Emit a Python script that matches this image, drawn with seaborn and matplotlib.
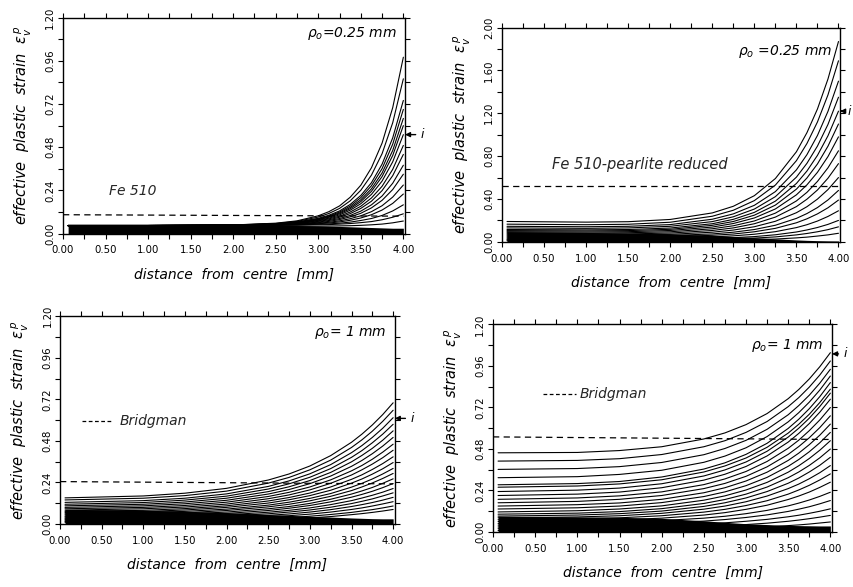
import numpy as np
import pandas as pd
import matplotlib
matplotlib.use("Agg")
import matplotlib.pyplot as plt
import seaborn as sns
from matplotlib.transforms import blended_transform_factory

sns.set_theme(style="ticks")
plt.rcParams["font.family"] = ["DejaVu Sans"]

# ---------------- data ----------------
# x positions at which the curves were read (panel 1 / panels 2-4)
X1 = [0.06, 1.0, 2.0, 2.5, 2.75, 3.0, 3.125, 3.25, 3.375, 3.5, 3.625, 3.75, 3.875, 4.0]
X2 = [0.06, 1.0, 1.5, 2.0, 2.5, 2.75, 3.0, 3.25, 3.5, 3.625, 3.75, 3.875, 4.0]

# Panel 1: Fe 510, rho0 = 0.25 mm
P1_CURVES = [
    [0.045, 0.045, 0.048, 0.058, 0.071, 0.099, 0.122, 0.154, 0.202, 0.269, 0.366, 0.503, 0.700, 0.98],
    [0.045, 0.045, 0.048, 0.056, 0.068, 0.092, 0.112, 0.140, 0.182, 0.241, 0.325, 0.444, 0.616, 0.86],
    [0.045, 0.045, 0.047, 0.055, 0.065, 0.085, 0.102, 0.126, 0.162, 0.212, 0.283, 0.386, 0.532, 0.74],
    [0.045, 0.045, 0.047, 0.054, 0.063, 0.082, 0.098, 0.120, 0.153, 0.200, 0.266, 0.361, 0.497, 0.69],
    [0.045, 0.045, 0.047, 0.053, 0.062, 0.079, 0.094, 0.115, 0.145, 0.188, 0.249, 0.337, 0.462, 0.64],
    [0.045, 0.045, 0.047, 0.053, 0.061, 0.077, 0.091, 0.110, 0.138, 0.178, 0.235, 0.317, 0.434, 0.60],
    [0.045, 0.045, 0.047, 0.052, 0.059, 0.074, 0.086, 0.104, 0.130, 0.166, 0.218, 0.292, 0.399, 0.55],
    [0.045, 0.045, 0.046, 0.051, 0.058, 0.071, 0.082, 0.097, 0.120, 0.152, 0.198, 0.263, 0.357, 0.49],
    [0.045, 0.045, 0.046, 0.050, 0.056, 0.068, 0.077, 0.091, 0.111, 0.140, 0.180, 0.239, 0.322, 0.44],
    [0.045, 0.045, 0.046, 0.050, 0.054, 0.064, 0.073, 0.084, 0.101, 0.125, 0.160, 0.209, 0.280, 0.38],
    [0.045, 0.045, 0.046, 0.049, 0.053, 0.061, 0.068, 0.078, 0.093, 0.113, 0.143, 0.185, 0.245, 0.33],
    [0.045, 0.045, 0.046, 0.048, 0.051, 0.058, 0.063, 0.071, 0.083, 0.099, 0.122, 0.155, 0.203, 0.27],
    [0.045, 0.045, 0.046, 0.047, 0.050, 0.055, 0.059, 0.065, 0.074, 0.087, 0.105, 0.131, 0.168, 0.22],
    [0.045, 0.045, 0.045, 0.047, 0.048, 0.052, 0.054, 0.058, 0.064, 0.073, 0.084, 0.101, 0.126, 0.16],
    [0.045, 0.045, 0.045, 0.046, 0.047, 0.049, 0.050, 0.053, 0.056, 0.061, 0.067, 0.077, 0.091, 0.11],
    [0.040, 0.040, 0.040, 0.040, 0.040, 0.041, 0.042, 0.043, 0.044, 0.046, 0.049, 0.053, 0.060, 0.07],
]
P1_BAND = [0.050, 0.050, 0.048, 0.046, 0.044, 0.042, 0.041, 0.040, 0.038, 0.036, 0.034, 0.032, 0.030, 0.030]
P1_BRIDGMAN = [0.105, 0.097]
P1_MARK_I = 0.55

# Panel 2: Fe 510 - pearlite reduced, rho0 = 0.25 mm
P2_CURVES = [
    [0.190, 0.184, 0.188, 0.209, 0.270, 0.332, 0.431, 0.591, 0.841, 1.019, 1.240, 1.520, 1.87],
    [0.165, 0.160, 0.164, 0.183, 0.239, 0.295, 0.385, 0.530, 0.758, 0.918, 1.119, 1.372, 1.69],
    [0.145, 0.141, 0.145, 0.161, 0.211, 0.261, 0.341, 0.469, 0.672, 0.814, 0.993, 1.218, 1.50],
    [0.130, 0.126, 0.130, 0.145, 0.189, 0.234, 0.306, 0.422, 0.604, 0.733, 0.894, 1.096, 1.35],
    [0.115, 0.112, 0.115, 0.129, 0.169, 0.210, 0.275, 0.380, 0.545, 0.661, 0.807, 0.990, 1.22],
    [0.105, 0.102, 0.105, 0.117, 0.154, 0.190, 0.249, 0.343, 0.492, 0.596, 0.727, 0.893, 1.10],
    [0.095, 0.092, 0.095, 0.106, 0.138, 0.171, 0.223, 0.307, 0.439, 0.532, 0.649, 0.796, 0.98],
    [0.085, 0.082, 0.085, 0.094, 0.122, 0.150, 0.195, 0.268, 0.382, 0.462, 0.564, 0.691, 0.85],
    [0.075, 0.073, 0.074, 0.082, 0.106, 0.130, 0.169, 0.231, 0.329, 0.398, 0.484, 0.594, 0.73],
    [0.065, 0.063, 0.064, 0.070, 0.090, 0.110, 0.141, 0.192, 0.272, 0.328, 0.399, 0.488, 0.60],
    [0.055, 0.053, 0.054, 0.059, 0.074, 0.090, 0.115, 0.155, 0.219, 0.264, 0.320, 0.391, 0.48],
    [0.045, 0.043, 0.044, 0.048, 0.061, 0.073, 0.094, 0.126, 0.178, 0.215, 0.261, 0.318, 0.39],
    [0.035, 0.034, 0.034, 0.037, 0.046, 0.056, 0.071, 0.095, 0.133, 0.160, 0.194, 0.237, 0.29],
    [0.025, 0.024, 0.024, 0.026, 0.033, 0.039, 0.049, 0.066, 0.092, 0.111, 0.134, 0.163, 0.20],
    [0.018, 0.017, 0.017, 0.019, 0.023, 0.028, 0.035, 0.046, 0.065, 0.078, 0.094, 0.114, 0.14],
    [0.010, 0.010, 0.010, 0.011, 0.013, 0.016, 0.020, 0.026, 0.037, 0.044, 0.054, 0.065, 0.08],
]
P2_BAND = [0.095, 0.088, 0.082, 0.075, 0.060, 0.050, 0.040, 0.028, 0.018, 0.014, 0.011, 0.009, 0.008]
P2_BRIDGMAN = [0.52, 0.52]
P2_MARK_I = 1.22

# Panel 3: Fe 510, rho0 = 1 mm
P3_CURVES = [
    [0.151, 0.162, 0.178, 0.206, 0.254, 0.289, 0.335, 0.395, 0.472, 0.519, 0.572, 0.632, 0.700],
    [0.139, 0.149, 0.164, 0.190, 0.236, 0.269, 0.313, 0.369, 0.442, 0.486, 0.536, 0.593, 0.657],
    [0.125, 0.135, 0.149, 0.174, 0.217, 0.249, 0.290, 0.343, 0.412, 0.453, 0.500, 0.553, 0.614],
    [0.114, 0.124, 0.138, 0.161, 0.202, 0.232, 0.270, 0.320, 0.385, 0.424, 0.469, 0.519, 0.576],
    [0.105, 0.114, 0.127, 0.149, 0.187, 0.215, 0.251, 0.298, 0.359, 0.396, 0.437, 0.484, 0.538],
    [0.096, 0.105, 0.117, 0.137, 0.173, 0.199, 0.233, 0.277, 0.333, 0.367, 0.406, 0.450, 0.500],
    [0.088, 0.096, 0.107, 0.126, 0.159, 0.183, 0.214, 0.255, 0.307, 0.338, 0.374, 0.415, 0.461],
    [0.080, 0.088, 0.098, 0.115, 0.146, 0.168, 0.197, 0.235, 0.283, 0.313, 0.346, 0.383, 0.426],
    [0.073, 0.079, 0.089, 0.105, 0.133, 0.153, 0.179, 0.214, 0.258, 0.284, 0.315, 0.349, 0.388],
    [0.066, 0.072, 0.081, 0.096, 0.121, 0.140, 0.164, 0.195, 0.236, 0.260, 0.288, 0.319, 0.355],
    [0.059, 0.065, 0.073, 0.086, 0.109, 0.126, 0.148, 0.176, 0.213, 0.235, 0.260, 0.289, 0.321],
    [0.053, 0.058, 0.065, 0.078, 0.099, 0.114, 0.134, 0.160, 0.193, 0.214, 0.237, 0.263, 0.292],
    [0.046, 0.051, 0.058, 0.069, 0.088, 0.101, 0.119, 0.143, 0.173, 0.191, 0.211, 0.235, 0.261],
    [0.041, 0.045, 0.051, 0.061, 0.078, 0.091, 0.107, 0.128, 0.155, 0.171, 0.189, 0.210, 0.234],
    [0.035, 0.039, 0.044, 0.053, 0.068, 0.079, 0.093, 0.112, 0.135, 0.150, 0.166, 0.184, 0.205],
    [0.030, 0.034, 0.038, 0.046, 0.059, 0.069, 0.081, 0.097, 0.118, 0.131, 0.145, 0.162, 0.180],
    [0.025, 0.028, 0.032, 0.038, 0.050, 0.058, 0.069, 0.083, 0.101, 0.112, 0.124, 0.138, 0.154],
    [0.019, 0.022, 0.025, 0.031, 0.041, 0.048, 0.057, 0.069, 0.084, 0.093, 0.104, 0.116, 0.129],
    [0.014, 0.016, 0.019, 0.024, 0.032, 0.037, 0.045, 0.055, 0.067, 0.075, 0.083, 0.093, 0.104],
    [0.010, 0.012, 0.014, 0.018, 0.024, 0.029, 0.035, 0.043, 0.054, 0.060, 0.067, 0.075, 0.084],
]
P3_BAND = [0.085, 0.080, 0.074, 0.066, 0.055, 0.050, 0.045, 0.040, 0.035, 0.033, 0.031, 0.030, 0.030]
P3_BRIDGMAN = [0.245, 0.232]
P3_MARK_I = 0.61

# Panel 4: Fe 510 - pearlite reduced, rho0 = 1 mm
P4_CURVES = [
    [0.458, 0.460, 0.471, 0.493, 0.538, 0.573, 0.621, 0.685, 0.771, 0.824, 0.885, 0.956, 1.037],
    [0.410, 0.414, 0.424, 0.448, 0.493, 0.528, 0.576, 0.639, 0.725, 0.777, 0.838, 0.908, 0.989],
    [0.362, 0.367, 0.378, 0.402, 0.447, 0.483, 0.530, 0.594, 0.678, 0.731, 0.791, 0.861, 0.941],
    [0.314, 0.320, 0.333, 0.357, 0.403, 0.439, 0.487, 0.552, 0.637, 0.690, 0.751, 0.821, 0.902],
    [0.273, 0.280, 0.292, 0.318, 0.364, 0.400, 0.449, 0.513, 0.599, 0.652, 0.713, 0.783, 0.864],
    [0.259, 0.266, 0.278, 0.302, 0.347, 0.382, 0.428, 0.490, 0.572, 0.623, 0.681, 0.749, 0.826],
    [0.234, 0.242, 0.254, 0.279, 0.324, 0.359, 0.405, 0.467, 0.549, 0.600, 0.658, 0.726, 0.803],
    [0.211, 0.219, 0.231, 0.256, 0.300, 0.334, 0.379, 0.440, 0.520, 0.570, 0.627, 0.693, 0.768],
    [0.189, 0.197, 0.209, 0.232, 0.274, 0.307, 0.350, 0.408, 0.484, 0.531, 0.586, 0.648, 0.720],
    [0.169, 0.177, 0.189, 0.211, 0.251, 0.281, 0.322, 0.377, 0.449, 0.494, 0.545, 0.604, 0.672],
    [0.150, 0.158, 0.168, 0.189, 0.227, 0.256, 0.295, 0.346, 0.414, 0.456, 0.505, 0.560, 0.624],
    [0.133, 0.140, 0.150, 0.170, 0.205, 0.232, 0.268, 0.316, 0.380, 0.419, 0.464, 0.516, 0.576],
    [0.116, 0.123, 0.133, 0.151, 0.184, 0.209, 0.243, 0.287, 0.346, 0.383, 0.425, 0.473, 0.528],
    [0.103, 0.109, 0.118, 0.135, 0.165, 0.188, 0.219, 0.260, 0.314, 0.347, 0.385, 0.429, 0.480],
    [0.092, 0.098, 0.106, 0.121, 0.148, 0.169, 0.197, 0.234, 0.282, 0.312, 0.347, 0.386, 0.432],
    [0.082, 0.087, 0.094, 0.108, 0.132, 0.150, 0.175, 0.208, 0.251, 0.277, 0.308, 0.343, 0.384],
    [0.071, 0.076, 0.082, 0.094, 0.115, 0.131, 0.153, 0.181, 0.219, 0.243, 0.270, 0.301, 0.336],
    [0.061, 0.065, 0.070, 0.080, 0.098, 0.112, 0.131, 0.155, 0.188, 0.208, 0.231, 0.258, 0.288],
    [0.050, 0.053, 0.058, 0.066, 0.080, 0.091, 0.106, 0.125, 0.151, 0.167, 0.185, 0.206, 0.230],
    [0.040, 0.042, 0.046, 0.052, 0.063, 0.072, 0.084, 0.099, 0.119, 0.132, 0.146, 0.163, 0.182],
    [0.029, 0.031, 0.034, 0.038, 0.047, 0.053, 0.062, 0.073, 0.088, 0.097, 0.108, 0.120, 0.134],
    [0.019, 0.020, 0.022, 0.026, 0.032, 0.037, 0.043, 0.051, 0.062, 0.069, 0.077, 0.086, 0.096],
    [0.009, 0.010, 0.011, 0.013, 0.017, 0.020, 0.024, 0.029, 0.037, 0.041, 0.046, 0.052, 0.058],
]
P4_BAND = [0.092, 0.088, 0.085, 0.079, 0.065, 0.056, 0.048, 0.043, 0.038, 0.037, 0.036, 0.035, 0.035]
P4_BRIDGMAN = [0.55, 0.535]
P4_MARK_I = 1.03

X_TICKS = [0.0, 0.25, 0.5, 0.75, 1.0, 1.25, 1.5, 1.75, 2.0, 2.25, 2.5, 2.75,
           3.0, 3.25, 3.5, 3.75, 4.0]
Y_TICKS_A = [0.0, 0.12, 0.24, 0.36, 0.48, 0.60, 0.72, 0.84, 0.96, 1.08, 1.20]
Y_TICKS_B = [0.0, 0.2, 0.4, 0.6, 0.8, 1.0, 1.2, 1.4, 1.6, 1.8, 2.0]

# ---------------- figure ----------------
fig = plt.figure(figsize=(8.54, 5.87), dpi=100)
fig.patch.set_facecolor("white")

panels = [
    dict(rect=[0.0738, 0.602, 0.4005, 0.368], x=X1, curves=P1_CURVES, band=P1_BAND,
         bridg=P1_BRIDGMAN, mark=P1_MARK_I, yticks=Y_TICKS_A, ymax=1.2,
         rho=r"$\rho_o$=0.25 mm", rho_y=0.925, ioff=11),
    dict(rect=[0.5878, 0.588, 0.396, 0.365], x=X2, curves=P2_CURVES, band=P2_BAND,
         bridg=P2_BRIDGMAN, mark=P2_MARK_I, yticks=Y_TICKS_B, ymax=2.0,
         rho=r"$\rho_o$ =0.25 mm", rho_y=0.89, ioff=5),
    dict(rect=[0.0703, 0.1073, 0.392, 0.354], x=X2, curves=P3_CURVES, band=P3_BAND,
         bridg=P3_BRIDGMAN, mark=P3_MARK_I, yticks=Y_TICKS_A, ymax=1.2,
         rho=r"$\rho_o$= 1 mm", rho_y=0.92, ioff=11),
    dict(rect=[0.5773, 0.0937, 0.397, 0.3535], x=X2, curves=P4_CURVES, band=P4_BAND,
         bridg=P4_BRIDGMAN, mark=P4_MARK_I, yticks=Y_TICKS_A, ymax=1.2,
         rho=r"$\rho_o$= 1 mm", rho_y=0.90, ioff=8),
]

axes = []
for p in panels:
    ax = fig.add_axes(p["rect"])
    axes.append(ax)
    ax.set_facecolor("white")
    xs = p["x"]
    # dense band of curves near the bottom
    ax.fill_between(xs, 0, p["band"], color="black", lw=0, zorder=2)
    # individual curves
    rows = []
    for ci, ys in enumerate(p["curves"]):
        for xv, yv in zip(xs, ys):
            rows.append((ci, xv, yv))
    df = pd.DataFrame(rows, columns=["curve", "x", "y"])
    sns.lineplot(data=df, x="x", y="y", units="curve", estimator=None,
                 color="black", lw=0.8, ax=ax, zorder=3, legend=False)
    # Bridgman
    ax.plot([0.0, 4.0], p["bridg"], color="black", lw=0.9,
            dashes=(5, 3.5), zorder=4)
    ax.set_xlim(0, 4.02)
    ax.set_ylim(0, p["ymax"])
    ax.set_xticks(X_TICKS)
    ax.set_xticklabels([f"{v:.2f}" if i % 2 == 0 else "" for i, v in enumerate(X_TICKS)])
    ax.set_yticks(p["yticks"])
    ax.set_yticklabels([f"{v:.2f}" if i % 2 == 0 else "" for i, v in enumerate(p["yticks"])])
    ax.tick_params(direction="out", length=3.5, width=0.8, top=True, right=True,
                   labeltop=False, labelright=False, labelsize=7.3, pad=5,
                   color="black", labelcolor="black")
    ax.tick_params(axis="y", labelrotation=90, pad=2)
    for lbl in ax.get_yticklabels():
        lbl.set_va("center")
    for s in ax.spines.values():
        s.set_visible(True)
        s.set_color("black")
        s.set_linewidth(1.0)
    ax.set_xlabel("distance  from  centre  [mm]", style="italic", fontsize=10,
                  labelpad=9, color="black")
    ax.set_ylabel(r"effective  plastic  strain  $\varepsilon_v^{\,p}$", style="italic",
                  fontsize=10.5, labelpad=8, color="black")
    ax.text(0.975, p["rho_y"], p["rho"], transform=ax.transAxes, ha="right",
            va="center", style="italic", fontsize=10, color="black")
    trans = blended_transform_factory(ax.transAxes, ax.transData)
    ax.annotate("i", xy=(1.0, p["mark"]), xycoords=trans, xytext=(p["ioff"], 0),
                textcoords="offset points", ha="left", va="center", fontsize=9,
                style="italic", color="black", annotation_clip=False,
                arrowprops=dict(arrowstyle="-|>", color="black", lw=1.0,
                                shrinkA=1, shrinkB=0, mutation_scale=7))

# panel-specific labels
axes[0].text(0.54, 0.235, "Fe 510", style="italic", fontsize=10, va="center")
axes[1].text(0.60, 0.72, "Fe 510-pearlite reduced", style="italic", fontsize=10.5,
             va="center")
axes[2].plot([0.26, 0.64], [0.595, 0.595], color="black", lw=0.9, dashes=(3, 2))
axes[2].text(0.71, 0.595, "Bridgman", style="italic", fontsize=10, va="center")
axes[3].plot([0.59, 0.98], [0.80, 0.80], color="black", lw=0.9, dashes=(3, 2))
axes[3].text(1.03, 0.80, "Bridgman", style="italic", fontsize=10, va="center")

fig.savefig("out.png", dpi=100, facecolor="white")
